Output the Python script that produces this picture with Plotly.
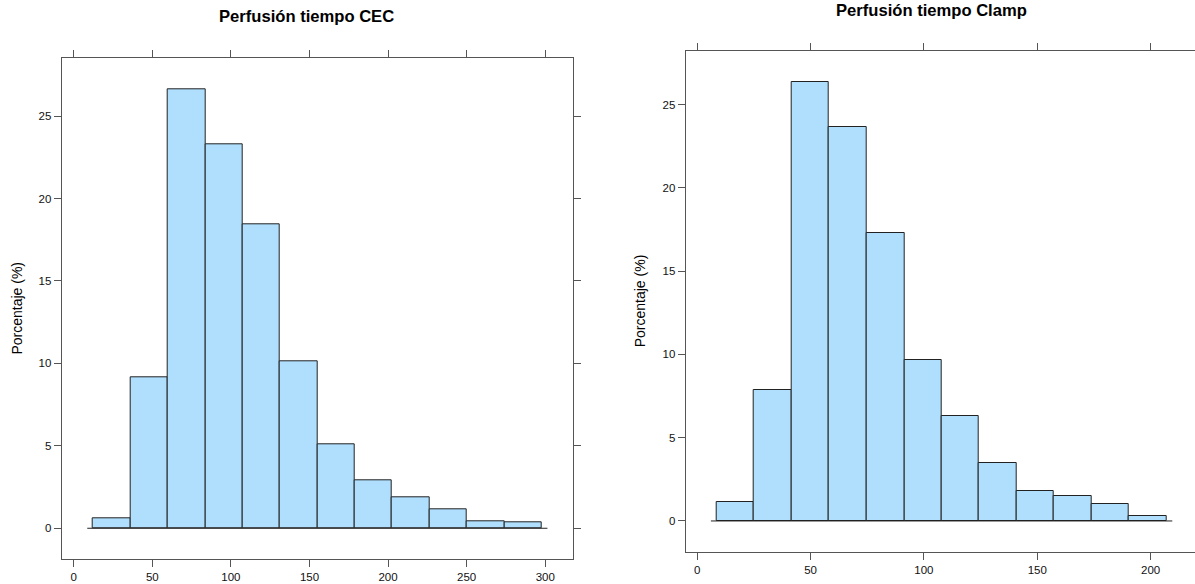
import plotly.graph_objects as go

# ---- data ----
cec_edges = [12.3, 36.1, 59.9, 83.7, 107.4, 131.2, 155.0, 178.8, 202.6, 226.4, 250.1, 273.9, 297.7]
cec_pct = [0.61, 9.18, 26.64, 23.3, 18.45, 10.1, 5.11, 2.93, 1.9, 1.17, 0.44, 0.38]

clamp_edges = [8.6, 25.1, 41.6, 58.2, 74.7, 91.3, 107.8, 124.3, 140.9, 157.4, 173.9, 190.5, 207.0]
clamp_pct = [1.12, 7.84, 26.37, 23.68, 17.3, 9.64, 6.28, 3.46, 1.78, 1.48, 1.0, 0.32]

cec_xticks = [0, 50, 100, 150, 200, 250, 300]
clamp_xticks = [0, 50, 100, 150, 200]
yticks = [0, 5, 10, 15, 20, 25]

titles = ["Perfusión tiempo CEC", "Perfusión tiempo Clamp"]
ylabel = "Porcentaje (%)"

W, H = 1195, 584
FILL = "#B0DFFD"
EDGE = "#222222"
AXC = "#555555"
FONT = "Liberation Sans, Arial, Helvetica, sans-serif"


def bars(edges, vals, xa, ya):
    centers = [(edges[i] + edges[i + 1]) / 2 for i in range(len(vals))]
    widths = [edges[i + 1] - edges[i] for i in range(len(vals))]
    return go.Bar(x=centers, y=vals, width=widths, xaxis=xa, yaxis=ya,
                  marker=dict(color=FILL, line=dict(color=EDGE, width=1)),
                  showlegend=False, hoverinfo="x+y")


fig = go.Figure()
fig.add_trace(bars(cec_edges, cec_pct, "x", "y"))
fig.add_trace(bars(clamp_edges, clamp_pct, "x2", "y2"))

# baselines (slightly extended beyond the bins)
for edges, xr, yr in [(cec_edges, "x", "y"), (clamp_edges, "x2", "y2")]:
    pad = 0.013 * (edges[-1] - edges[0])
    fig.add_shape(type="line", xref=xr, yref=yr, x0=edges[0] - pad, x1=edges[-1] + pad,
                  y0=0, y1=0, line=dict(color=EDGE, width=1), layer="above")


def pad_range(lo, hi, f=0.07):
    d = (hi - lo) * f
    return [lo - d, hi + d]


axis_common = dict(showgrid=False, zeroline=False, showline=True, linecolor=AXC, linewidth=1,
                   ticks="outside", ticklen=7, tickcolor=AXC, tickwidth=1,
                   tickfont=dict(family=FONT, size=11.5, color="#111"), automargin=False)

fig.update_layout(
    width=W, height=H,
    margin=dict(l=0, r=0, t=0, b=0),
    paper_bgcolor="white", plot_bgcolor="white",
    bargap=0,
    xaxis=dict(domain=[61.7 / W, 573 / W], range=pad_range(cec_edges[0], cec_edges[-1]),
               tickvals=cec_xticks, mirror="ticks", anchor="y", **axis_common),
    yaxis=dict(domain=[1 - 559 / H, 1 - 58.3 / H], range=pad_range(0, max(cec_pct)),
               tickvals=yticks, mirror="ticks", anchor="x", **axis_common),
    xaxis2=dict(domain=[685.7 / W, 1.0], range=[-5.1, 219.6],
                tickvals=clamp_xticks, mirror="ticks", anchor="y2", **axis_common),
    yaxis2=dict(domain=[1 - 551.7 / H, 1 - 51 / H], range=pad_range(0, max(clamp_pct)),
                tickvals=yticks, mirror=False, anchor="x2", **axis_common),
)

ann = []
ann.append(dict(text="<b>" + titles[0] + "</b>", x=306.5 / W, y=1 - 17 / H, xref="paper", yref="paper",
                showarrow=False, font=dict(family=FONT, size=16.6, color="#000"),
                xanchor="center", yanchor="middle"))
ann.append(dict(text="<b>" + titles[1] + "</b>", x=931 / W, y=1 - 10.5 / H, xref="paper", yref="paper",
                showarrow=False, font=dict(family=FONT, size=16.6, color="#000"),
                xanchor="center", yanchor="middle"))
ann.append(dict(text=ylabel, x=17 / W, y=1 - 308.6 / H, xref="paper", yref="paper", textangle=-90,
                showarrow=False, font=dict(family=FONT, size=14, color="#000"),
                xanchor="center", yanchor="middle"))
ann.append(dict(text=ylabel, x=640 / W, y=1 - 301.3 / H, xref="paper", yref="paper", textangle=-90,
                showarrow=False, font=dict(family=FONT, size=14, color="#000"),
                xanchor="center", yanchor="middle"))
fig.update_layout(annotations=ann)

fig.write_html("out.html")
